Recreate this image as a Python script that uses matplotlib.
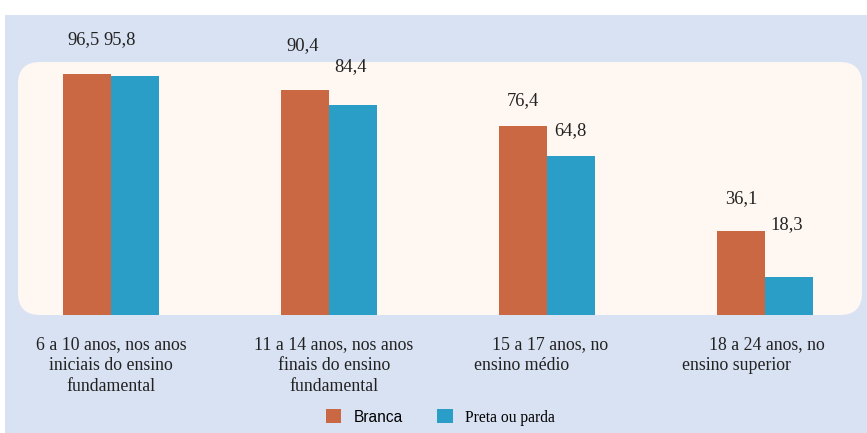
import matplotlib.pyplot as plt
from matplotlib.patches import FancyBboxPatch, Rectangle
from matplotlib.transforms import IdentityTransform
import numpy as np

# data
categorias = ['6 a 10 anos, nos anos\niniciais do ensino\nfundamental',
              '11 a 14 anos, nos anos\nfinais do ensino\nfundamental',
              '    15 a 17 anos, no\nensino médio',
              '      18 a 24 anos, no\nensino superior']
branca = [96.5, 90.4, 76.4, 36.1]
preta_parda = [95.8, 84.4, 64.8, 18.3]
series_nomes = ['Branca', 'Preta ou parda']

cor_branca = '#c96842'
cor_preta = '#2b9ec7'
fundo = '#d9e2f2'
painel = '#fff8f2'

# label offsets in pixels (dx, dy)
off_branca = [(-3, 34), (-2, 44), (0, 26), (0, 32)]
off_preta = [(-15, 36), (-2, 39), (-1, 26), (-2, 52)]
cat_dx = [0, 5, -6, -12]

fig = plt.figure(figsize=(8.67, 4.33), dpi=100, facecolor='white')

# background + rounded panel, in pixels (behind the axes)
fig.patches.append(Rectangle((5, 0), 862, 418, transform=IdentityTransform(),
                             facecolor=fundo, edgecolor='none', zorder=-2))
fig.patches.append(FancyBboxPatch((18, 433 - 315), 844, 253,
                                  boxstyle='round,pad=0,rounding_size=22',
                                  transform=IdentityTransform(),
                                  facecolor=painel, edgecolor='none', zorder=-1))

ax = fig.add_axes([0, 1 - 315 / 433, 1, 315 / 433])
ax.set_facecolor('none')
x = np.arange(len(categorias))
w = 0.22
b1 = ax.bar(x - w / 2, branca, w, color=cor_branca, label=series_nomes[0])
b2 = ax.bar(x + w / 2, preta_parda, w, color=cor_preta, label=series_nomes[1])

ax.set_xlim(-0.509, 3.468)
ax.set_ylim(3.66, 125)
for s in ax.spines.values():
    s.set_visible(False)
ax.set_xticks([])
ax.set_yticks([])

serif = 'Liberation Serif'
px = 0.72
for bars, vals, offs in [(b1, branca, off_branca), (b2, preta_parda, off_preta)]:
    for r, v, (dx, dy) in zip(bars, vals, offs):
        ax.annotate(f'{v:.1f}'.replace('.', ','),
                    (r.get_x() + r.get_width() / 2, v),
                    xytext=(dx * px, dy * px), textcoords='offset points',
                    ha='center', va='center', fontsize=13.3, family=serif,
                    color='#222222', annotation_clip=False)

for i, c in enumerate(categorias):
    ax.annotate(c, (x[i], 0), xycoords=ax.get_xaxis_transform(),
                xytext=(cat_dx[i] * px, -21 * px), textcoords='offset points',
                ha='center', va='top', multialignment='left' if i >= 2 else 'center',
                fontsize=12.8, family=serif, color='#222222', linespacing=1.32,
                annotation_clip=False)

leg = fig.legend(handles=[b1, b2], loc='center', bbox_to_anchor=(0.508, 0.036),
                 ncol=2, frameon=False, handlelength=1.0, handleheight=1.0,
                 handletextpad=0.8, columnspacing=2.2, fontsize=11.2)
leg.get_texts()[0].set_fontfamily('Liberation Sans')
leg.get_texts()[1].set_fontfamily(serif)

fig.savefig('out.png', dpi=100, facecolor='white')
